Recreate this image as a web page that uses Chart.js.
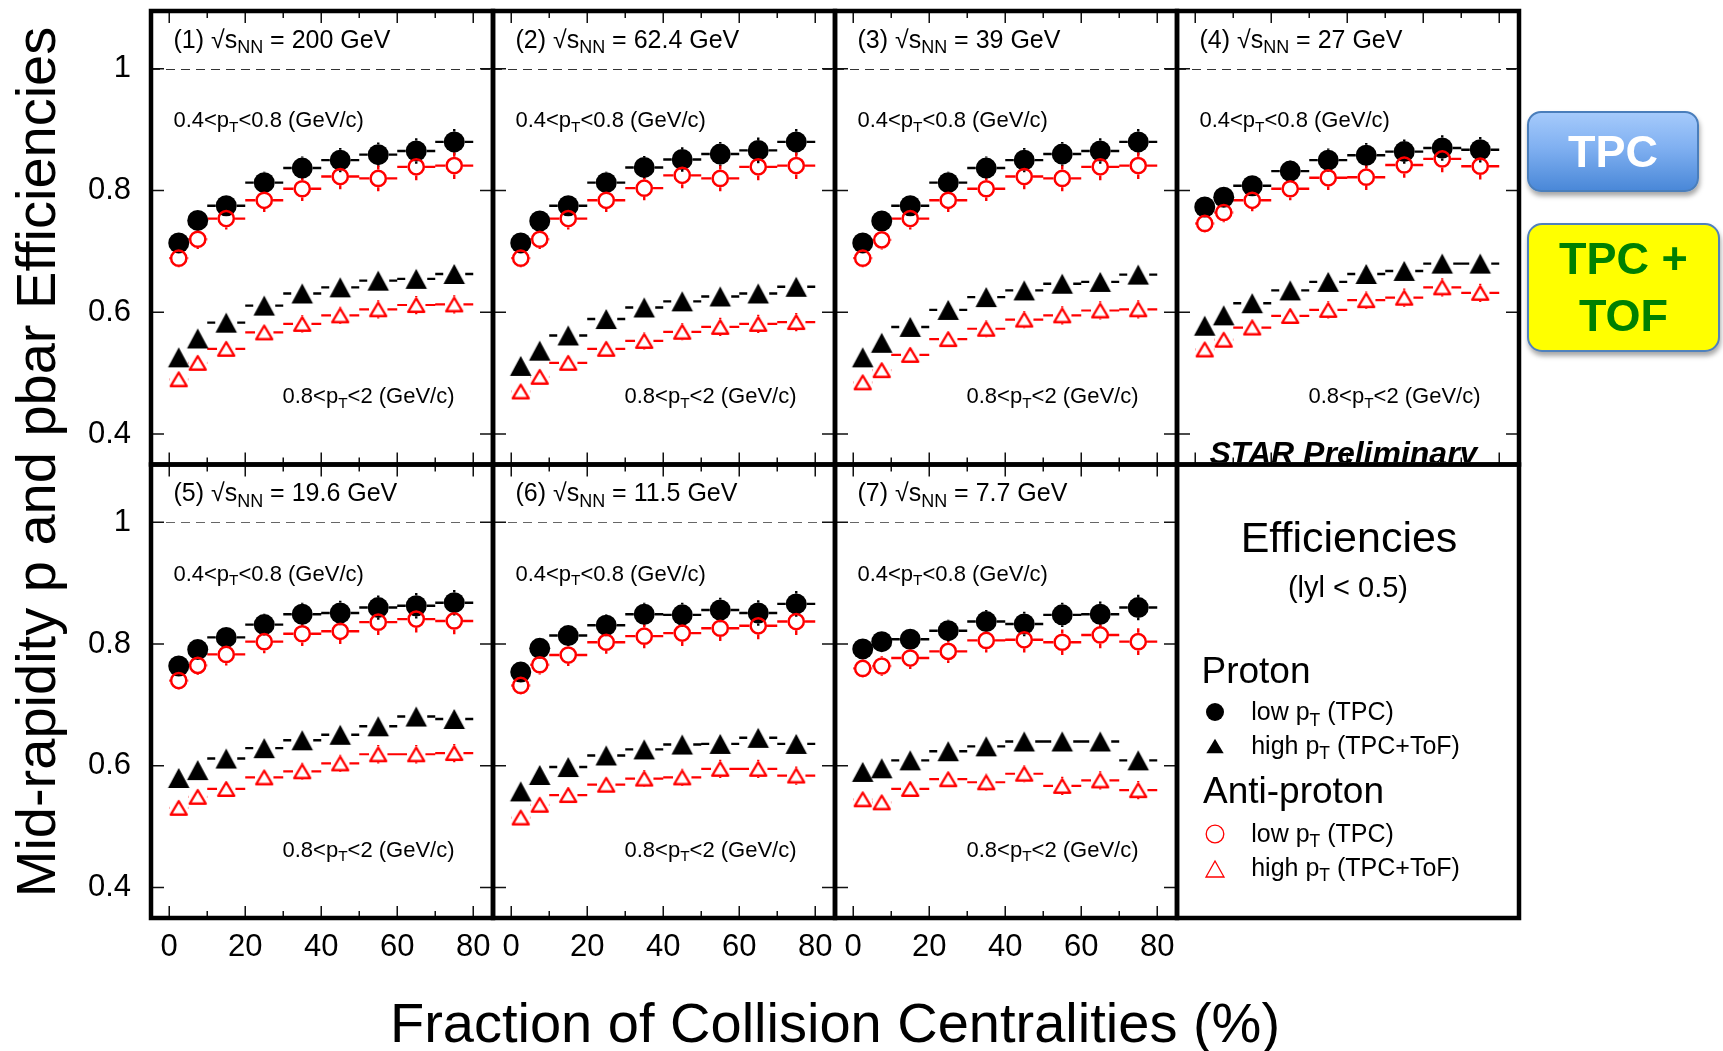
<!DOCTYPE html>
<html>
<head>
<meta charset="utf-8">
<title>Mid-rapidity p and pbar efficiencies</title>
<script src="https://cdn.jsdelivr.net/npm/chart.js@4.4.1/dist/chart.umd.min.js"></script>
<style>
  body { margin: 0; background: #fff; }
  #stage {
    position: relative; width: 1723px; height: 1051px; overflow: hidden; background: #fff;
    font-family: 'Liberation Sans', Arial, Helvetica, sans-serif; color: #000;
  }
  #eff { position: absolute; left: 0; top: 0; }
  .txt { position: absolute; white-space: nowrap; line-height: 1; }
  .txt sub { font-size: 0.72em; vertical-align: baseline; position: relative; top: 0.3em; }
  .txt sub.t { font-size: 0.7em; }
  .mark { position: absolute; }
  .btn {
    position: absolute; box-sizing: border-box; display: flex; align-items: center; justify-content: center;
    text-align: center; font-weight: bold; font-size: 45px; box-shadow: 1px 4px 5px rgba(0,0,0,0.35);
  }
  #tpc {
    left: 1527px; top: 111px; width: 172px; height: 81px; border-radius: 14px; line-height: 1;
    border: 2px solid #4a7ebb; color: #fff;
    background: linear-gradient(to bottom, #a5cafb 0%, #80b0f1 45%, #4a88d8 100%);
  }
  #tof {
    left: 1527px; top: 223px; width: 193px; height: 129px; border-radius: 15px; line-height: 56.7px;
    border: 2.5px solid #4f81bd; color: #008000; background: #ffff00;
  }
</style>
</head>
<body>
<div id="stage">
  <canvas id="eff" width="1723" height="1051"></canvas>
  <div id="tpc" class="btn">TPC</div>
  <div id="tof" class="btn">TPC +<br>TOF</div>
</div>
<script>
// ---------- data ----------
// centrality bins (%): centres and half widths
const CENTRALITY = [2.5, 7.5, 15, 25, 35, 45, 55, 65, 75];
const BIN_HALF = [2.5, 2.5, 5, 5, 5, 5, 5, 5, 5];

const X_TICKS = [0, 20, 40, 60, 80];
const X_MINOR = [10, 30, 50, 70];
const Y_TICKS = [0.4, 0.6, 0.8, 1];
const Y_TICK_LABELS = ['0.4', '0.6', '0.8', '1'];

const ENERGIES = ['200', '62.4', '39', '27', '19.6', '11.5', '7.7'];

// proton, 0.4<pT<0.8 (TPC)
const P_LOW = [
  [0.714, 0.751, 0.775, 0.813, 0.837, 0.850, 0.859, 0.865, 0.880],
  [0.714, 0.750, 0.775, 0.813, 0.838, 0.851, 0.860, 0.866, 0.880],
  [0.714, 0.750, 0.775, 0.813, 0.837, 0.850, 0.860, 0.865, 0.880],
  [0.773, 0.789, 0.808, 0.832, 0.850, 0.858, 0.864, 0.870, 0.867],
  [0.764, 0.791, 0.811, 0.832, 0.849, 0.851, 0.860, 0.863, 0.868],
  [0.754, 0.793, 0.814, 0.831, 0.849, 0.848, 0.856, 0.851, 0.866],
  [0.792, 0.804, 0.808, 0.822, 0.837, 0.833, 0.848, 0.849, 0.860]
];
// anti-proton, 0.4<pT<0.8 (TPC)
const PBAR_LOW = [
  [0.689, 0.720, 0.754, 0.784, 0.803, 0.823, 0.820, 0.839, 0.841],
  [0.689, 0.720, 0.754, 0.784, 0.804, 0.825, 0.820, 0.839, 0.841],
  [0.689, 0.719, 0.754, 0.784, 0.803, 0.823, 0.820, 0.839, 0.841],
  [0.746, 0.764, 0.784, 0.803, 0.821, 0.822, 0.842, 0.852, 0.840],
  [0.740, 0.765, 0.783, 0.804, 0.817, 0.821, 0.836, 0.841, 0.838],
  [0.732, 0.766, 0.782, 0.803, 0.813, 0.818, 0.826, 0.830, 0.837],
  [0.760, 0.764, 0.777, 0.788, 0.806, 0.807, 0.803, 0.815, 0.804]
];
// proton, 0.8<pT<2 (TPC+ToF)
const P_HIGH = [
  [0.526, 0.557, 0.583, 0.611, 0.631, 0.641, 0.652, 0.655, 0.663],
  [0.512, 0.537, 0.562, 0.589, 0.608, 0.618, 0.626, 0.631, 0.642],
  [0.526, 0.550, 0.576, 0.604, 0.625, 0.636, 0.647, 0.650, 0.662],
  [0.578, 0.595, 0.615, 0.636, 0.650, 0.663, 0.668, 0.680, 0.680],
  [0.580, 0.593, 0.612, 0.629, 0.642, 0.651, 0.665, 0.681, 0.677],
  [0.558, 0.585, 0.598, 0.617, 0.627, 0.635, 0.636, 0.646, 0.636],
  [0.590, 0.596, 0.609, 0.624, 0.632, 0.640, 0.640, 0.640, 0.609]
];
// anti-proton, 0.8<pT<2 (TPC+ToF)
const PBAR_HIGH = [
  [0.490, 0.517, 0.540, 0.567, 0.581, 0.595, 0.605, 0.612, 0.613],
  [0.470, 0.494, 0.517, 0.540, 0.553, 0.568, 0.576, 0.581, 0.584],
  [0.485, 0.505, 0.530, 0.556, 0.573, 0.588, 0.595, 0.603, 0.605],
  [0.539, 0.555, 0.575, 0.594, 0.604, 0.620, 0.624, 0.641, 0.632],
  [0.531, 0.549, 0.562, 0.581, 0.591, 0.604, 0.619, 0.619, 0.621],
  [0.515, 0.536, 0.552, 0.569, 0.579, 0.581, 0.595, 0.595, 0.584],
  [0.545, 0.540, 0.562, 0.578, 0.573, 0.587, 0.567, 0.576, 0.560]
];

// statistical errors per centrality bin
const ERR_P_LOW = [0.015, 0.016, 0.017, 0.018, 0.019, 0.020, 0.020, 0.021, 0.021];
const ERR_PBAR_LOW = [0.015, 0.016, 0.018, 0.019, 0.020, 0.021, 0.021, 0.022, 0.022];
const ERR_P_HIGH = [0.010, 0.010, 0.011, 0.011, 0.012, 0.012, 0.012, 0.013, 0.013];
const ERR_PBAR_HIGH = [0.012, 0.012, 0.013, 0.013, 0.014, 0.014, 0.015, 0.015, 0.015];

const X_MIN = -4.8, X_MAX = 85.2;
const Y_MIN = 0.35, Y_MAX = 1.095;

const FONT = "'Liberation Sans', Arial, Helvetica, sans-serif";
Chart.defaults.font.family = FONT;

// ---------- marker sprites ----------
function triangleSprite(w, h, fill, stroke, lw) {
  const pad = stroke ? Math.ceil(lw) + 1 : 1;
  const c = document.createElement('canvas');
  c.width = Math.ceil(w) + 2 * pad;
  c.height = Math.ceil(h) + 2 * pad;
  const g = c.getContext('2d');
  const cx = c.width / 2, cy = c.height / 2;
  g.beginPath();
  g.moveTo(cx, cy - h / 2);
  g.lineTo(cx + w / 2, cy + h / 2);
  g.lineTo(cx - w / 2, cy + h / 2);
  g.closePath();
  if (fill) { g.fillStyle = fill; g.fill(); }
  if (stroke) { g.strokeStyle = stroke; g.lineWidth = lw; g.lineJoin = 'round'; g.stroke(); }
  return c;
}
const TRI_FILLED = triangleSprite(21.5, 20, '#000', null, 0);
const TRI_OPEN = triangleSprite(16, 13.5, null, '#ff0000', 2.4);

const SERIES = [
  { label: 'p low pT', values: P_LOW, err: ERR_P_LOW, color: '#000', order: 1,
    style: { pointStyle: 'circle', pointRadius: 10.5, backgroundColor: '#000', borderColor: '#000', borderWidth: 0 },
    gapX: 10.5, gapY: 10.5, lineW: 2.4 },
  { label: 'p high pT', values: P_HIGH, err: ERR_P_HIGH, color: '#000', order: 1,
    style: { pointStyle: TRI_FILLED, pointRadius: 11, backgroundColor: '#000', borderColor: '#000', borderWidth: 0 },
    gapX: 11, gapY: 10, lineW: 2.4 },
  { label: 'pbar low pT', values: PBAR_LOW, err: ERR_PBAR_LOW, color: '#ff0000', order: 0,
    style: { pointStyle: 'circle', pointRadius: 7.6, backgroundColor: 'rgba(0,0,0,0)', borderColor: '#ff0000', borderWidth: 2.5 },
    gapX: 8.8, gapY: 8.8, lineW: 2.4 },
  { label: 'pbar high pT', values: PBAR_HIGH, err: ERR_PBAR_HIGH, color: '#ff0000', order: 0,
    style: { pointStyle: TRI_OPEN, pointRadius: 9, backgroundColor: 'rgba(0,0,0,0)', borderColor: '#ff0000', borderWidth: 0 },
    gapX: 9.2, gapY: 7.9, lineW: 2.2 }
];

// panel i sits in column i%4, row floor(i/4)
const PANEL_AXES = ENERGIES.map((e, i) => ({ x: 'x' + (i % 4), y: 'y' + Math.floor(i / 4) }));

const datasets = [];
ENERGIES.forEach((e, i) => {
  SERIES.forEach(s => {
    datasets.push(Object.assign({
      label: s.label + ' ' + e + ' GeV',
      xAxisID: PANEL_AXES[i].x,
      yAxisID: PANEL_AXES[i].y,
      order: s.order,
      data: s.values[i].map((v, k) => ({ x: CENTRALITY[k], y: v, dx: BIN_HALF[k], dy: s.err[k] })),
      errColor: s.color, gapX: s.gapX, gapY: s.gapY, errWidth: s.lineW
    }, s.style));
  });
});

// ---------- scales: 4 stacked x axes, 2 stacked y axes ----------
const scales = {};
for (let c = 0; c < 4; c++) {
  scales['x' + c] = {
    type: 'linear', position: 'bottom', stack: 'cols', stackWeight: 1, weight: c,
    min: X_MIN, max: X_MAX,
    afterFit: s => { s.height = 133; s.paddingLeft = 0; s.paddingRight = 0; },
    afterBuildTicks: s => { s.ticks = X_TICKS.map(v => ({ value: v })); },
    grid: { display: false, drawTicks: false },
    border: { display: false },
    ticks: { display: c < 3, color: '#000', font: { size: 31 }, padding: 11, maxRotation: 0, autoSkip: false,
             callback: v => String(v) }
  };
}
for (let r = 0; r < 2; r++) {
  scales['y' + r] = {
    type: 'linear', position: 'left', stack: 'rows', stackWeight: 1, weight: 2 - r,
    min: Y_MIN, max: Y_MAX,
    // labels stay inside the fixed frame, so no extra room above/below
    afterFit: s => { s.width = 151; s.paddingTop = 0; s.paddingBottom = 0; },
    afterBuildTicks: s => { s.ticks = Y_TICKS.map(v => ({ value: v })); },
    grid: { display: false, drawTicks: false },
    border: { display: false },
    ticks: { color: '#000', font: { size: 31 }, padding: 20, autoSkip: false,
             callback: (v, i) => Y_TICK_LABELS[i] }
  };
}

// ---------- frames, ticks, dashed unity line, error bars ----------
const frames = {
  id: 'frames',
  beforeDatasetsDraw(chart) {
    const ctx = chart.ctx;
    ctx.save();
    ctx.setLineDash([9, 6]);
    ctx.lineWidth = 1.2;
    PANEL_AXES.forEach(a => {
      const xs = chart.scales[a.x], ys = chart.scales[a.y];
      const y = Math.round(ys.getPixelForValue(1)) + 0.5;
      ctx.strokeStyle = a.y === 'y0' ? '#333' : '#666';
      ctx.beginPath();
      ctx.moveTo(xs.left, y);
      ctx.lineTo(xs.right, y);
      ctx.stroke();
    });
    ctx.setLineDash([]);

    // error bars stop at the marker edge
    chart.data.datasets.forEach(ds => {
      const xs = chart.scales[ds.xAxisID], ys = chart.scales[ds.yAxisID];
      ctx.strokeStyle = ds.errColor;
      ctx.lineWidth = ds.errWidth;
      ctx.beginPath();
      ds.data.forEach(p => {
        const px = xs.getPixelForValue(p.x), py = ys.getPixelForValue(p.y);
        const xl = xs.getPixelForValue(p.x - p.dx), xr = xs.getPixelForValue(p.x + p.dx);
        const yt = ys.getPixelForValue(p.y + p.dy), yb = ys.getPixelForValue(p.y - p.dy);
        if (px - xl > ds.gapX) {
          ctx.moveTo(xl, py); ctx.lineTo(px - ds.gapX, py);
          ctx.moveTo(px + ds.gapX, py); ctx.lineTo(xr, py);
        }
        if (py - yt > ds.gapY) {
          ctx.moveTo(px, yt); ctx.lineTo(px, py - ds.gapY);
          ctx.moveTo(px, py + ds.gapY); ctx.lineTo(px, yb);
        }
      });
      ctx.stroke();
    });
    ctx.restore();
  },
  afterDatasetsDraw(chart) {
    const ctx = chart.ctx;
    ctx.save();
    ctx.strokeStyle = '#111';
    ctx.lineWidth = 1.5;
    PANEL_AXES.forEach(a => {
      const xs = chart.scales[a.x], ys = chart.scales[a.y];
      ctx.beginPath();
      X_TICKS.concat(X_MINOR).forEach(v => {
        const len = X_TICKS.includes(v) ? 12 : 7;
        const x = xs.getPixelForValue(v);
        ctx.moveTo(x, ys.bottom); ctx.lineTo(x, ys.bottom - len);
        ctx.moveTo(x, ys.top); ctx.lineTo(x, ys.top + len);
      });
      Y_TICKS.forEach(v => {
        const y = ys.getPixelForValue(v);
        ctx.moveTo(xs.left, y); ctx.lineTo(xs.left + 13, y);
        ctx.moveTo(xs.right, y); ctx.lineTo(xs.right - 13, y);
      });
      ctx.stroke();
    });
    // thick cell borders, legend cell included
    ctx.strokeStyle = '#000';
    ctx.lineWidth = 4.5;
    ['x0', 'x1', 'x2', 'x3'].forEach(xId => ['y0', 'y1'].forEach(yId => {
      const xs = chart.scales[xId], ys = chart.scales[yId];
      ctx.strokeRect(xs.left, ys.top, xs.right - xs.left, ys.bottom - ys.top);
    }));
    ctx.restore();
  }
};

const chart = new Chart(document.getElementById('eff').getContext('2d'), {
  type: 'scatter',
  data: { datasets },
  options: {
    responsive: false,
    animation: false,
    devicePixelRatio: 1,
    layout: { padding: { top: 6, right: 204, bottom: 0, left: 0 } },
    plugins: { legend: { display: false }, tooltip: { enabled: false } },
    scales
  },
  plugins: [frames]
});

// ---------- text ----------
const stage = document.getElementById('stage');

function putText(html, x, baseline, size, opts = {}) {
  const el = document.createElement('div');
  el.className = 'txt';
  el.innerHTML = html;
  el.style.fontSize = size + 'px';
  if (opts.bold) el.style.fontWeight = 'bold';
  if (opts.italic) el.style.fontStyle = 'italic';
  el.style.left = x + 'px';
  el.style.top = (baseline - 0.8465 * size) + 'px';
  if (opts.center) el.style.transform = 'translateX(-50%)';
  (opts.parent || stage).appendChild(el);
  return el;
}

function putMarker(svg, cx, cy) {
  const el = document.createElement('div');
  el.className = 'mark';
  el.style.left = (cx - 12) + 'px';
  el.style.top = (cy - 12) + 'px';
  el.innerHTML = '<svg width="24" height="24" viewBox="0 0 24 24">' + svg + '</svg>';
  stage.appendChild(el);
}

PANEL_AXES.forEach((a, i) => {
  const xs = chart.scales[a.x], ys = chart.scales[a.y];
  putText('(' + (i + 1) + ') &radic;s<sub>NN</sub> = ' + ENERGIES[i] + ' GeV',
          xs.getPixelForValue(1.1), ys.getPixelForValue(1.034), 25);
  putText('0.4&lt;p<sub class="t">T</sub>&lt;0.8 (GeV/c)',
          xs.getPixelForValue(1.1), ys.getPixelForValue(0.903), 22);
  putText('0.8&lt;p<sub class="t">T</sub>&lt;2 (GeV/c)',
          xs.getPixelForValue(29.8), ys.getPixelForValue(0.45), 22);
});

// preliminary tag, cut by the lower border of panel 4
{
  const xs = chart.scales.x3, ys = chart.scales.y0;
  const clip = document.createElement('div');
  clip.style.cssText = 'position:absolute;overflow:hidden;';
  clip.style.left = xs.left + 'px';
  clip.style.top = ys.top + 'px';
  clip.style.width = (xs.right - xs.left) + 'px';
  clip.style.height = (ys.bottom - ys.top - 2.2) + 'px';
  stage.appendChild(clip);
  putText('STAR Preliminary', xs.getPixelForValue(39) - xs.left, ys.bottom - ys.top - 0.5, 32,
          { bold: true, italic: true, center: true, parent: clip });
}

// legend cell
{
  const L = chart.scales.x3.left, T = chart.scales.y1.top - 2;
  putText('Efficiencies', L + 172, T + 89.7, 43, { center: true });
  putText('(lyl &lt; 0.5)', L + 171, T + 134.7, 29, { center: true });
  putText('Proton', L + 24.5, T + 220.7, 37);
  putText('Anti-proton', L + 26, T + 341.3, 37);
  const rows = [
    ['<circle cx="12" cy="12" r="9" fill="#000"/>', 'low p<sub class="t">T</sub> (TPC)', 249.7, 258],
    ['<polygon points="12,4.8 20.7,19.2 3.3,19.2" fill="#000"/>', 'high p<sub class="t">T</sub> (TPC+ToF)', 283, 291.3],
    ['<circle cx="12" cy="12" r="8.8" fill="none" stroke="#ff0000" stroke-width="1.3"/>', 'low p<sub class="t">T</sub> (TPC)', 371.3, 379.7],
    ['<polygon points="12,4 21,20 3,20" fill="none" stroke="#ff0000" stroke-width="1.3"/>', 'high p<sub class="t">T</sub> (TPC+ToF)', 406.3, 413.7]
  ];
  rows.forEach(r => {
    putMarker(r[0], L + 38.3, T + r[2]);
    putText(r[1], L + 74.2, T + r[3], 25);
  });
}

// axis titles
{
  const area = chart.chartArea;
  putText('Fraction of Collision Centralities (%)', (area.left + area.right) / 2, 1042.5, 56, { center: true });
  const yt = document.createElement('div');
  yt.className = 'txt';
  yt.textContent = 'Mid-rapidity p and pbar Efficiencies';
  yt.style.cssText += 'font-size:56px;width:1000px;height:56px;text-align:center;transform:rotate(-90deg);';
  yt.style.left = (35.6 - 500) + 'px';
  yt.style.top = ((area.top + area.bottom) / 2 - 3 - 28) + 'px';
  stage.appendChild(yt);
}
</script>
</body>
</html>
